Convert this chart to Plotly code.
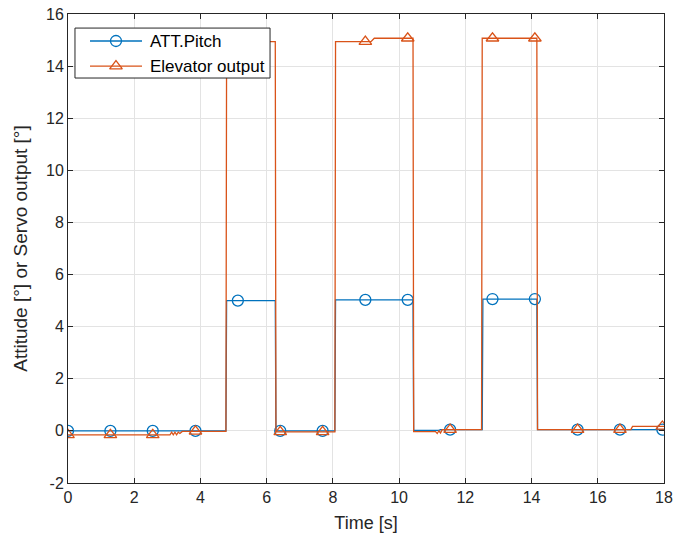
import numpy as np
import plotly.graph_objects as go

# Attitude pitch (deg) breakpoints
pitch_t = [0, 4.77, 4.79, 6.26, 6.28, 8.06, 8.08, 10.42, 10.44, 11.2, 11.25,
           12.51, 12.53, 14.16, 14.18, 18]
pitch_v = [0, 0, 5.0, 5.0, 0, 0, 5.03, 5.03, 0.02, 0.02, 0.05,
           0.05, 5.06, 5.06, 0.05, 0.05]

# Elevator servo output (deg) breakpoints
elev_t = [0, 3.08, 3.13, 3.18, 3.23, 3.28, 3.33, 3.38, 3.45, 4.77, 4.79,
          6.26, 6.28, 8.06, 8.08, 9.15, 9.25, 10.42, 10.44, 11.1, 11.15,
          11.2, 11.25, 11.3, 12.49, 12.51, 14.16, 14.18, 17.0, 17.05, 18]
elev_v = [-0.15, -0.15, -0.05, -0.15, -0.05, -0.15, -0.05, -0.1, -0.02, -0.02, 14.94,
          14.94, -0.04, -0.04, 14.94, 14.94, 15.07, 15.07, -0.03, -0.03, -0.1,
          0.0, -0.08, 0.05, 0.05, 15.07, 15.07, 0.05, 0.05, 0.17, 0.17]

# Sample times where markers are placed along each line
marker_t = [0, 1.28, 2.56, 3.85, 5.13, 6.41, 7.69, 8.98, 10.26, 11.54,
            12.82, 14.1, 15.39, 16.67, 17.95]

x_ticks = [0, 2, 4, 6, 8, 10, 12, 14, 16, 18]
y_ticks = [-2, 0, 2, 4, 6, 8, 10, 12, 14, 16]
y_tick_text = ["-2", "0", "2", "4", "6", "8", "10", "12", "14", "16"]

BLUE = "#0072BD"
ORANGE = "#D95319"
TXT = "#262626"
FONT = "Liberation Sans, Arial, sans-serif"

fig = go.Figure()

series = [
    ("ATT.Pitch", pitch_t, pitch_v, BLUE, "circle-open"),
    ("Elevator output", elev_t, elev_v, ORANGE, "triangle-up-open"),
]

for name, t, v, color, sym in series:
    fig.add_trace(go.Scatter(
        x=t, y=v, mode="lines", line=dict(color=color, width=1.3),
        name=name, showlegend=False, hoverinfo="skip"))
    fig.add_trace(go.Scatter(
        x=marker_t, y=np.interp(marker_t, t, v), mode="markers",
        marker=dict(symbol=sym, size=11, color=color,
                    line=dict(color=color, width=1.3)),
        name=name, showlegend=False))

# Compact boxed legend, drawn on an overlay axis spanning the plot area (0..1)
LEG_X0, LEG_X1, LEG_Y0, LEG_Y1 = 0.0117, 0.339, 0.8635, 0.970
ROW_Y = [0.9424, 0.889]
SAMPLE_X0, SAMPLE_X1, SAMPLE_MID, TEXT_X = 0.0369, 0.1242, 0.0805, 0.1342

fig.add_trace(go.Scatter(
    x=[LEG_X0, LEG_X1, LEG_X1, LEG_X0, LEG_X0],
    y=[LEG_Y0, LEG_Y0, LEG_Y1, LEG_Y1, LEG_Y0],
    xaxis="x2", yaxis="y2", mode="lines", fill="toself", fillcolor="white",
    line=dict(color=TXT, width=1), showlegend=False, hoverinfo="skip"))
for (name, t, v, color, sym), ry in zip(series, ROW_Y):
    fig.add_trace(go.Scatter(
        x=[SAMPLE_X0, SAMPLE_X1], y=[ry, ry], xaxis="x2", yaxis="y2",
        mode="lines", line=dict(color=color, width=1.3),
        showlegend=False, hoverinfo="skip"))
    fig.add_trace(go.Scatter(
        x=[SAMPLE_MID], y=[ry], xaxis="x2", yaxis="y2", mode="markers",
        marker=dict(symbol=sym, size=11, color=color,
                    line=dict(color=color, width=1.3)),
        showlegend=False, hoverinfo="skip"))
    fig.add_annotation(xref="paper", yref="paper", x=TEXT_X, y=ry,
                       text=name, showarrow=False, xanchor="left", yanchor="middle",
                       font=dict(family=FONT, size=17, color="#000000"))

axis_common = dict(
    showgrid=True, gridcolor="#e3e3e3", gridwidth=1,
    zeroline=False, showline=True, linecolor=TXT, linewidth=1,
    mirror="allticks", ticks="inside", ticklen=5, tickcolor=TXT,
    tickfont=dict(family=FONT, size=16, color=TXT), automargin=False,
)

fig.update_xaxes(range=[0, 18], tickvals=x_ticks,
                 title=dict(text="Time [s]", font=dict(family=FONT, size=18, color=TXT),
                            standoff=11),
                 **axis_common)
fig.update_yaxes(range=[-2, 16], tickvals=y_ticks, ticktext=y_tick_text,
                 title=dict(text="Attitude [°] or Servo output [°]",
                            font=dict(family=FONT, size=19, color=TXT), standoff=13),
                 **axis_common)

fig.update_layout(
    width=676, height=546,
    margin=dict(l=68, r=12, t=14, b=63),
    paper_bgcolor="white", plot_bgcolor="white",
    font=dict(family=FONT, color=TXT),
    showlegend=False,
    xaxis2=dict(overlaying="x", range=[0, 1], visible=False, automargin=False),
    yaxis2=dict(overlaying="y", range=[0, 1], visible=False, automargin=False),
)

fig.write_html("out.html")
